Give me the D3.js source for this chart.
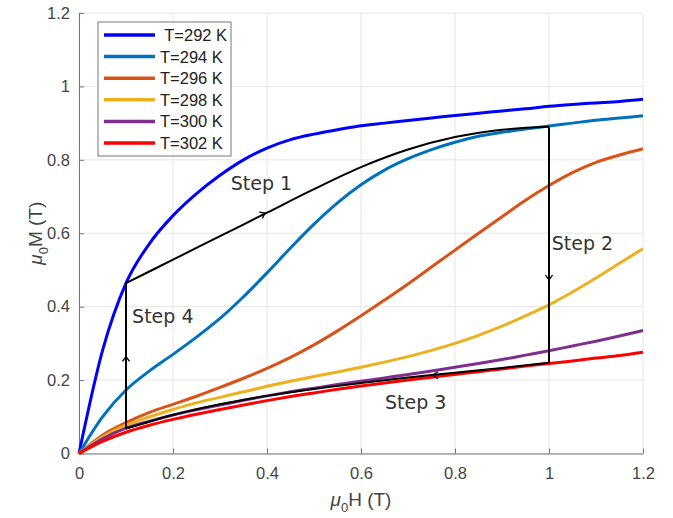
<!DOCTYPE html>
<html>
<head>
<meta charset="utf-8">
<script src="https://cdn.jsdelivr.net/npm/d3@7"></script>
<style>
  body { margin: 0; background: #fff; }
  text { font-family: "Liberation Sans", Arial, sans-serif; }
  .step { font-family: "DejaVu Sans", Verdana, sans-serif; }
</style>
</head>
<body>
<div id="chart"></div>
<script>
// field values (T), shared by all isotherms
const fieldH = [0, 0.05, 0.1, 0.15, 0.2, 0.25, 0.3, 0.35, 0.4, 0.45, 0.5, 0.55, 0.6,
                0.65, 0.7, 0.75, 0.8, 0.85, 0.9, 0.95, 1.0, 1.05, 1.1, 1.15, 1.2];

// magnetisation (T) per temperature
const m292 = [0, 0.28, 0.464, 0.572, 0.648, 0.708, 0.758, 0.8, 0.832, 0.855, 0.87, 0.882, 0.893,
              0.9, 0.907, 0.914, 0.921, 0.927, 0.933, 0.939, 0.946, 0.951, 0.955, 0.959, 0.965];
const m294 = [0, 0.1, 0.173, 0.225, 0.27, 0.317, 0.368, 0.427, 0.492, 0.56, 0.625, 0.683, 0.732,
              0.772, 0.803, 0.828, 0.848, 0.864, 0.875, 0.884, 0.892, 0.9, 0.908, 0.914, 0.92];
const m296 = [0, 0.05, 0.084, 0.112, 0.134, 0.156, 0.18, 0.205, 0.232, 0.262, 0.296, 0.334, 0.375,
              0.418, 0.462, 0.508, 0.554, 0.6, 0.645, 0.69, 0.73, 0.765, 0.793, 0.813, 0.83];
const m298 = [0, 0.045, 0.077, 0.1, 0.12, 0.138, 0.153, 0.168, 0.183, 0.197, 0.21, 0.222, 0.235,
              0.249, 0.264, 0.281, 0.3, 0.322, 0.347, 0.375, 0.405, 0.44, 0.478, 0.518, 0.558];
const m300 = [0, 0.04, 0.069, 0.088, 0.105, 0.119, 0.132, 0.145, 0.157, 0.168, 0.178, 0.188, 0.197,
              0.206, 0.215, 0.225, 0.235, 0.245, 0.256, 0.268, 0.28, 0.293, 0.306, 0.32, 0.335];
const m302 = [0, 0.033, 0.058, 0.077, 0.093, 0.107, 0.12, 0.132, 0.144, 0.155, 0.165, 0.175, 0.184,
              0.192, 0.2, 0.208, 0.215, 0.223, 0.23, 0.238, 0.245, 0.252, 0.26, 0.267, 0.276];

const seriesNames = [" T=292 K", "T=294 K", "T=296 K", "T=298 K", "T=300 K", "T=302 K"];
const seriesColors = ["#0000ff", "#0072bd", "#d95319", "#edb120", "#7e2f8e", "#ff0000"];
const seriesValues = [m292, m294, m296, m298, m300, m302];

// thermodynamic cycle (black)
const step1H = [0.1, 0.2, 0.3, 0.4, 0.5, 0.6, 0.7, 0.8, 0.9, 1.0];
const step1M = [0.464, 0.528, 0.592, 0.656, 0.72, 0.78, 0.828, 0.862, 0.882, 0.89];
const step3H = [0.1, 0.2, 0.3, 0.4, 0.5, 0.6, 0.7, 0.8, 0.9, 1.0];
const step3M = [0.068, 0.105, 0.134, 0.157, 0.176, 0.192, 0.207, 0.22, 0.233, 0.247];

// arrow heads: position and direction
const arrowH = [0.396, 1.0, 0.753, 0.1];
const arrowM = [0.655, 0.473, 0.213, 0.264];
const arrowDir = ["step1", "down", "left", "up"];

const stepLabels = ["Step 1", "Step 2", "Step 3", "Step 4"];
const stepLabelH = [0.323, 1.006, 0.651, 0.113];
const stepLabelM = [0.718, 0.554, 0.121, 0.356];

const xTicks = [0, 0.2, 0.4, 0.6, 0.8, 1, 1.2];
const yTicks = [0, 0.2, 0.4, 0.6, 0.8, 1, 1.2];

const W = 673, H = 518;
const margin = { top: 13, right: 30, bottom: 64.5, left: 79 };
const width = W - margin.left - margin.right;
const height = H - margin.top - margin.bottom;

const svg = d3.select("#chart").append("svg")
  .attr("width", W).attr("height", H);
const g = svg.append("g")
  .attr("transform", `translate(${margin.left},${margin.top})`);

const x = d3.scaleLinear().domain([0, 1.2]).range([0, width]);
const y = d3.scaleLinear().domain([0, 1.2]).range([height, 0]);

// grid
g.append("g").selectAll("line").data(xTicks).join("line")
  .attr("x1", d => x(d)).attr("x2", d => x(d))
  .attr("y1", 0).attr("y2", height)
  .attr("stroke", "#e6e6e6").attr("stroke-width", 1);
g.append("g").selectAll("line").data(yTicks).join("line")
  .attr("y1", d => y(d)).attr("y2", d => y(d))
  .attr("x1", 0).attr("x2", width)
  .attr("stroke", "#e6e6e6").attr("stroke-width", 1);

// axes
const fmt = d => d3.format("")(+d.toFixed(1));
const xAxis = g.append("g")
  .attr("transform", `translate(0,${height})`)
  .call(d3.axisBottom(x).tickValues(xTicks).tickFormat(fmt)
    .tickSizeInner(-5).tickSizeOuter(0).tickPadding(14));
const yAxis = g.append("g")
  .call(d3.axisLeft(y).tickValues(yTicks).tickFormat(fmt)
    .tickSizeInner(-5).tickSizeOuter(0).tickPadding(9));
[xAxis, yAxis].forEach(a => {
  a.select(".domain").attr("stroke", "#777");
  a.selectAll(".tick line").attr("stroke", "#777");
  a.selectAll(".tick text").attr("fill", "#444")
    .style("font-size", "16.5px")
    .style("font-family", "'Liberation Sans', Arial, sans-serif");
});

// axis labels
const xl = g.append("text")
  .attr("x", width / 2).attr("y", height + 52)
  .attr("text-anchor", "middle").attr("fill", "#444")
  .style("font-size", "19px");
xl.append("tspan").text("\u03bc").style("font-style", "italic");
xl.append("tspan").text("0").attr("dy", 6).style("font-size", "13px");
xl.append("tspan").text("H (T)").attr("dy", -6);

const yl = g.append("text")
  .attr("transform", `translate(-44,${height / 2}) rotate(-90)`)
  .attr("text-anchor", "middle").attr("fill", "#444")
  .attr("dy", "0.35em")
  .style("font-size", "19px");
yl.append("tspan").text("\u03bc").style("font-style", "italic");
yl.append("tspan").text("0").attr("dy", 6).style("font-size", "13px");
yl.append("tspan").text("M (T)").attr("dy", -6);

// isotherms
const line = d3.line()
  .x(d => x(d[0])).y(d => y(d[1]))
  .curve(d3.curveMonotoneX);

seriesValues.forEach((vals, i) => {
  g.append("path")
    .datum(fieldH.map((h, j) => [h, vals[j]]))
    .attr("fill", "none")
    .attr("stroke", seriesColors[i])
    .attr("stroke-width", 3)
    .attr("stroke-linejoin", "round")
    .attr("d", line);
});

// cycle
const cyc = g.append("g").attr("fill", "none").attr("stroke", "#000")
  .attr("stroke-width", 2).attr("stroke-linejoin", "round");
const s1 = step1H.map((h, i) => [h, step1M[i]]);
const s3 = step3H.map((h, i) => [h, step3M[i]]);
const straight = d3.line().x(d => x(d[0])).y(d => y(d[1]));
cyc.append("path").datum(s1).attr("d", line);
cyc.append("path").datum(s3).attr("d", line);
cyc.append("path").datum([s1[s1.length - 1], s3[s3.length - 1]]).attr("d", straight);
cyc.append("path").datum([s3[0], s1[0]]).attr("d", straight);

// arrow heads
const dirAngle = {
  step1: Math.atan2(y(step1M[4]) - y(step1M[0]), x(step1H[4]) - x(step1H[0])),
  down: Math.PI / 2, left: Math.PI, up: -Math.PI / 2
};
arrowH.forEach((h, i) => {
  const px = x(h), py = y(arrowM[i]);
  const a = dirAngle[arrowDir[i]], L = 6, phi = Math.PI / 5;
  const pts = [
    [px - L * Math.cos(a - phi), py - L * Math.sin(a - phi)],
    [px, py],
    [px - L * Math.cos(a + phi), py - L * Math.sin(a + phi)]
  ];
  g.append("path").attr("d", d3.line()(pts))
    .attr("fill", "none").attr("stroke", "#000").attr("stroke-width", 1.3);
});

// step labels
stepLabels.forEach((s, i) => {
  g.append("text").attr("class", "step")
    .attr("x", x(stepLabelH[i])).attr("y", y(stepLabelM[i]))
    .attr("fill", "#333").style("font-size", "19px")
    .text(s);
});

// legend
const lg = svg.append("g").attr("transform", "translate(98,22)");
lg.append("rect").attr("width", 133).attr("height", 134)
  .attr("fill", "#fff").attr("stroke", "#777").attr("stroke-width", 1);
seriesNames.forEach((n, i) => {
  const yy = 13 + i * 21.6;
  lg.append("line").attr("x1", 6).attr("x2", 57).attr("y1", yy).attr("y2", yy)
    .attr("stroke", seriesColors[i]).attr("stroke-width", 3.5);
  lg.append("text").attr("x", 62).attr("y", yy).attr("dy", "0.36em")
    .attr("fill", "#222").style("font-size", "16.5px")
    .style("white-space", "pre").text(n);
});
</script>
</body>
</html>
